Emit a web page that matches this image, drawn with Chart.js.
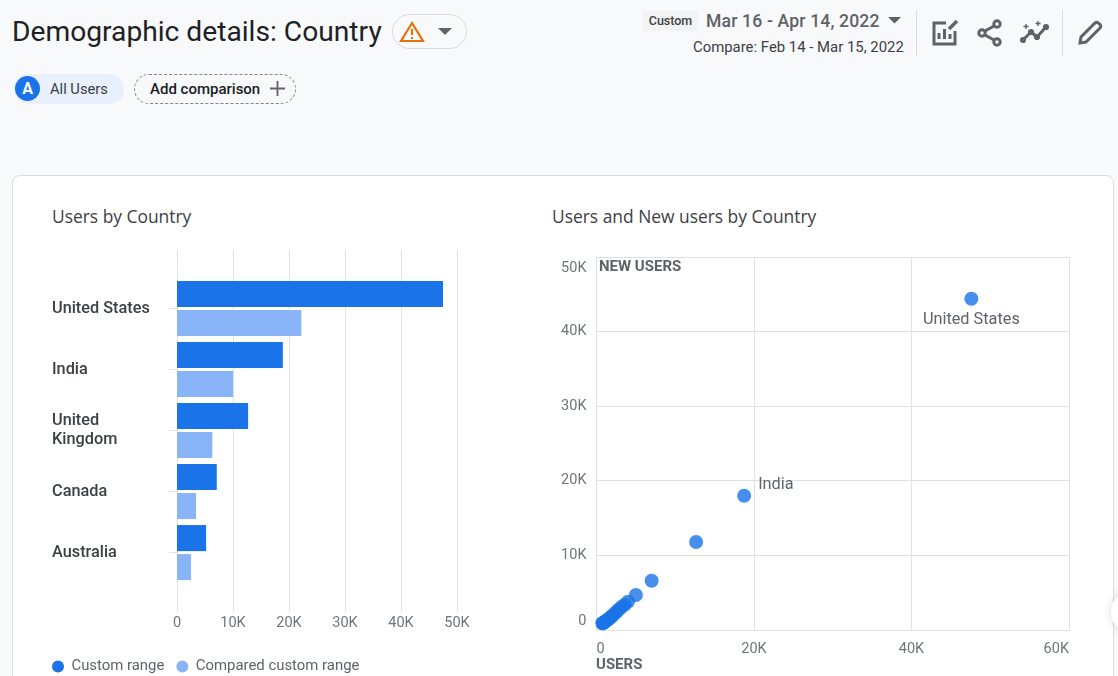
<!DOCTYPE html>
<html>
<head>
<meta charset="utf-8">
<title>Demographic details: Country</title>
<script src="https://cdn.jsdelivr.net/npm/chart.js@4"></script>
<style>
  html, body { margin: 0; padding: 0; }
  body { width: 1118px; height: 676px; overflow: hidden; position: relative; background: #f8f9fb; font-family: Roboto, sans-serif; color: #202124; }
  .abs { position: absolute; white-space: nowrap; }
  #card { left: 12px; top: 175px; width: 1100px; height: 520px; background: #fff; border: 1px solid #dadce0; border-radius: 8px; }
  #floatBtn { left: 1111px; top: 590px; width: 44px; height: 44px; border-radius: 50%; background: #fff; box-shadow: 0 0 8px rgba(60,64,67,.18); }
  canvas { position: absolute; }
  .cardTitle { font-family: "Open Sans", sans-serif; font-size: 17.4px; color: #3c4043; top: 206px; line-height: 20px; }
  .axisName { font-size: 15px; font-weight: 700; color: #5f6368; line-height: 16px; }
</style>
</head>
<body>
<div class="abs" style="left:12px;top:14px;font-size:28.2px;line-height:36px;color:#202124">Demographic details: Country</div>
<div class="abs" style="left:392px;top:14px;width:73px;height:33px;border:1px solid #dadce0;border-radius:18px"></div>
<svg class="abs" style="left:399px;top:20px" width="26" height="24" viewBox="0 0 26 24">
  <path d="M13 3 L24 21 H2 Z" fill="none" stroke="#e8710a" stroke-width="2.2"/>
  <path d="M13 9 V15 M13 17 V19" stroke="#e8710a" stroke-width="2.2"/>
</svg>
<svg class="abs" style="left:437px;top:27px" width="16" height="9"><path d="M1 1 H15 L8 8 Z" fill="#5f6368"/></svg>

<div class="abs" style="left:14px;top:74px;width:110px;height:30px;border-radius:15px;background:#e8f0fe"></div>
<div class="abs" style="left:15px;top:76px;width:25px;height:25px;border-radius:50%;background:#1a73e8;color:#fff;font-weight:700;font-size:16px;line-height:25px;text-align:center">A</div>
<div class="abs" style="left:50px;top:80px;font-size:14.7px;line-height:18px;color:#3c4043">All Users</div>
<div class="abs" style="left:134px;top:74px;width:160px;height:28px;border:1px dashed #80868b;border-radius:15px"></div>
<div class="abs" style="left:150px;top:80px;font-size:15px;font-weight:500;line-height:18px;color:#202124">Add comparison</div>
<svg class="abs" style="left:270px;top:81px" width="15" height="15"><path d="M7.5 0 V15 M0 7.5 H15" stroke="#5f6368" stroke-width="1.8"/></svg>

<div class="abs" style="left:643px;top:11px;width:55px;height:20px;background:#f1f3f4;font-size:12.5px;font-weight:500;line-height:20px;text-align:center;color:#3c4043">Custom</div>
<div class="abs" style="left:706px;top:11px;font-size:17.6px;font-weight:500;letter-spacing:.15px;line-height:21px;color:#5f6368">Mar 16 - Apr 14, 2022</div>
<svg class="abs" style="left:888px;top:17px" width="13" height="7"><path d="M0 0 H13 L6.5 6.5 Z" fill="#5f6368"/></svg>
<div class="abs" style="left:693px;top:38px;font-size:14.9px;line-height:18px;color:#3c4043">Compare: Feb 14 - Mar 15, 2022</div>
<div class="abs" style="left:916px;top:10px;width:1px;height:46px;background:#dadce0"></div>
<div class="abs" style="left:1062px;top:10px;width:1px;height:46px;background:#dadce0"></div>
<svg class="abs" style="left:930px;top:18px" width="30" height="30" viewBox="0 0 30 30" fill="none" stroke="#5f6368" stroke-width="3">
  <path d="M16 5 H4 V26 H25 V13"/><path d="M9 21 V15 M14.5 21 V11 M20 21 V16"/><path d="M19 11 L27 3" stroke-width="3.4"/>
</svg>
<svg class="abs" style="left:976px;top:18px" width="28" height="30" viewBox="0 0 28 30" fill="none" stroke="#5f6368" stroke-width="3">
  <circle cx="21" cy="6" r="3.2"/><circle cx="6" cy="15" r="3.2"/><circle cx="21" cy="24" r="3.2"/><path d="M9 13 L18 8 M9 17 L18 22"/>
</svg>
<svg class="abs" style="left:1020px;top:20px" width="30" height="26" viewBox="0 0 30 26" fill="none" stroke="#5f6368" stroke-width="3">
  <path d="M3 20 L11 12 L17 17 L26 7"/><circle cx="3" cy="20" r="1.6"/><circle cx="11" cy="12" r="1.6"/><circle cx="17" cy="17" r="1.6"/><circle cx="26" cy="7" r="1.6"/>
  <path d="M6 4 V9 M3.5 6.5 H8.5 M18 1 V6 M15.5 3.5 H20.5" stroke-width="1.4"/>
</svg>
<svg class="abs" style="left:1077px;top:20px" width="26" height="26" viewBox="0 0 26 26" fill="none" stroke="#5f6368" stroke-width="3">
  <path d="M3 23 L4 17 L18 3 Q20 1.5 22 3.5 L23 4.5 Q24.5 6.5 23 8 L9 22 Z"/>
</svg>

<div class="abs" id="card"></div>
<div class="abs cardTitle" style="left:52px">Users by Country</div>
<div class="abs cardTitle" style="left:552px">Users and New users by Country</div>

<canvas id="barChart" style="left:40px;top:240px;width:440px;height:444px"></canvas>
<canvas id="scatterChart" style="left:540px;top:245px;width:570px;height:431px"></canvas>
<div class="abs axisName" style="left:599px;top:258px">NEW USERS</div>
<div class="abs axisName" style="left:596px;top:656px">USERS</div>
<div class="abs" id="floatBtn"></div>

<script>
// Bar chart data
const countries = ['United States', 'India', ['United', 'Kingdom'], 'Canada', 'Australia'];
const customRange = [47500, 18900, 12700, 7100, 5200];
const comparedRange = [22200, 10000, 6300, 3400, 2500];
const barTicks = [0, 10000, 20000, 30000, 40000, 50000];

// Scatter data, one entry per country
const scatterUsers = [47600, 18750, 12650, 7000, 5000, 4000, 3600, 3200, 2900, 2600, 2400, 2100, 1900, 1700, 1500, 1300, 1100, 950, 850, 800, 750];
const scatterNewUsers = [44400, 18000, 11800, 6600, 4700, 3800, 3400, 3100, 2800, 2500, 2300, 2000, 1800, 1600, 1450, 1300, 1100, 1000, 950, 900, 900];
const scatterNames = ['United States', 'India'];

const gridColor = '#e0e1e6';
const tickColor = '#70757a';

function shortNumber(v) {
    return v === 0 ? '0' : (v / 1000) + 'K';
}

// Tick labels may overhang, the plot area stays where the paddings put it
function noOverhang(s) {
    s.paddingLeft = 0;
    s.paddingRight = 0;
    s.paddingTop = 0;
    s.paddingBottom = 0;
}

// Grid lines of the bar chart run above and below the bars
const tallGrid = {
    id: 'tallGrid',
    afterLayout(chart) {
        // country names start further in than the legend box
        chart.scales.y.left = 12;
    },
    beforeDatasetsDraw(chart) {
        const ctx = chart.ctx;
        const x = chart.scales.x;
        ctx.save();
        ctx.strokeStyle = gridColor;
        ctx.lineWidth = 1;
        x.ticks.forEach(t => {
            const px = Math.round(x.getPixelForValue(t.value)) + 0.5;
            ctx.beginPath();
            ctx.moveTo(px, 10);
            ctx.lineTo(px, 372);
            ctx.stroke();
        });
        ctx.restore();
    }
};

// Names next to the two biggest points
const pointNames = {
    id: 'pointNames',
    afterDatasetsDraw(chart) {
        const ctx = chart.ctx;
        const pts = chart.getDatasetMeta(0).data;
        ctx.save();
        ctx.font = '16.3px Roboto';
        ctx.fillStyle = '#5f6368';
        ctx.textBaseline = 'middle';
        ctx.textAlign = 'center';
        ctx.fillText(scatterNames[0], pts[0].x, pts[0].y + 21);
        ctx.textAlign = 'left';
        ctx.fillText(scatterNames[1], pts[1].x + 14, pts[1].y - 11);
        ctx.restore();
    }
};

new Chart(document.getElementById('barChart'), {
    type: 'bar',
    plugins: [tallGrid],
    data: {
        labels: countries,
        datasets: [
            { label: 'Custom range', data: customRange, backgroundColor: '#1a73e8', hoverBackgroundColor: '#1a73e8', barPercentage: 0.9, categoryPercentage: 0.95 },
            { label: 'Compared custom range', data: comparedRange, backgroundColor: '#8ab4f8', hoverBackgroundColor: '#8ab4f8', barPercentage: 0.9, categoryPercentage: 0.95 }
        ]
    },
    options: {
        indexAxis: 'y',
        responsive: false,
        animation: false,
        devicePixelRatio: 1,
        layout: { padding: { top: 38, right: 23, left: 0, bottom: 0 } },
        plugins: {
            tooltip: { enabled: false },
            legend: {
                position: 'bottom',
                align: 'start',
                labels: {
                    usePointStyle: true,
                    pointStyle: 'circle',
                    pointStyleWidth: 12,
                    boxHeight: 8.5,
                    padding: 12,
                    color: '#5f6368',
                    font: { family: 'Roboto', size: 14.9 }
                }
            }
        },
        scales: {
            x: {
                min: 0,
                max: 50000,
                afterBuildTicks(s) { s.ticks = barTicks.map(v => ({ value: v })); },
                afterFit(s) { noOverhang(s); s.height = 64; },
                grid: { display: false },
                border: { display: false },
                ticks: { padding: 24, maxRotation: 0, color: tickColor, font: { family: 'Roboto', size: 14.5 }, callback: shortNumber }
            },
            y: {
                afterFit(s) { noOverhang(s); s.width = 137; },
                grid: { drawOnChartArea: false, offset: false, color: gridColor, tickLength: 8 },
                border: { display: false },
                ticks: { crossAlign: 'far', padding: 20, autoSkip: false, color: '#3c4043', font: { family: 'Roboto', size: 16.3, weight: '500', lineHeight: 1.13 } }
            }
        }
    }
});

new Chart(document.getElementById('scatterChart'), {
    type: 'scatter',
    plugins: [pointNames],
    data: {
        datasets: [{
            label: 'Users and New users',
            data: scatterUsers.map((u, i) => ({ x: u, y: scatterNewUsers[i] })),
            backgroundColor: 'rgba(26,115,232,0.8)',
            borderWidth: 0,
            pointRadius: 7,
            clip: false
        }]
    },
    options: {
        responsive: false,
        animation: false,
        devicePixelRatio: 1,
        layout: { padding: { top: 12, right: 41, left: 0, bottom: 0 } },
        plugins: { legend: { display: false }, tooltip: { enabled: false } },
        scales: {
            x: {
                min: 0,
                max: 60000,
                afterFit(s) { noOverhang(s); s.height = 46; },
                grid: { color: gridColor, drawTicks: false },
                border: { color: gridColor },
                ticks: { stepSize: 20000, align: 'inner', padding: 11, maxRotation: 0, color: tickColor, font: { family: 'Roboto', size: 14.5 }, callback: shortNumber }
            },
            y: {
                min: 0,
                max: 50000,
                afterFit(s) { noOverhang(s); s.width = 56.5; },
                grid: { color: gridColor, drawTicks: false },
                border: { color: gridColor },
                ticks: {
                    stepSize: 10000,
                    padding: 10,
                    color: tickColor,
                    // a taller line moves the inset end labels further from the axis end
                    font(ctx) {
                        const v = ctx.tick ? ctx.tick.value : 1;
                        return { family: 'Roboto', size: 14.5, lineHeight: v === 50000 ? 1.6 : 1.2 };
                    },
                    // top and bottom labels sit inside the axis ends
                    callback(v) {
                        if (v === 0) return ['0', ''];
                        if (v === 50000) return ['', shortNumber(v)];
                        return shortNumber(v);
                    }
                }
            }
        }
    }
});
</script>
</body>
</html>
